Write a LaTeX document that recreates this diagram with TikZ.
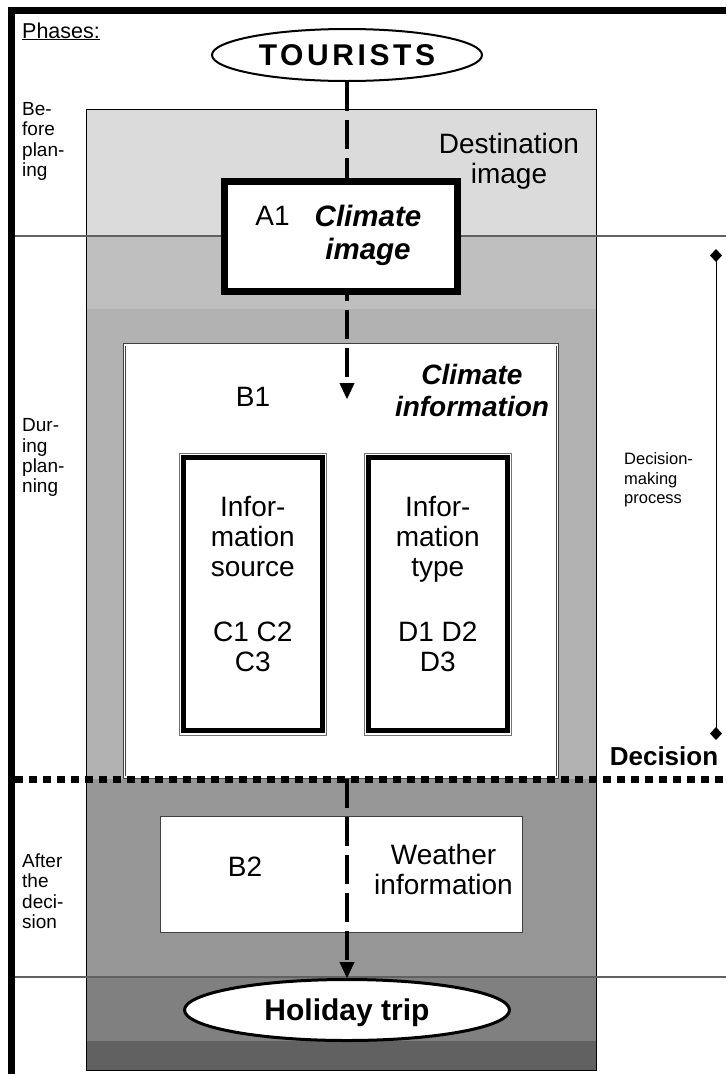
\documentclass[tikz,border=0pt]{standalone}
\usepackage{fontspec}
\setmainfont{Liberation Sans}
\usetikzlibrary{arrows.meta,shapes.geometric}

\newcommand{\fsz}[2]{\fontsize{#1}{#2}\selectfont}

\begin{document}
\begin{tikzpicture}[x=1pt,y=-1pt,
  phaseline/.style={draw=black!62,line width=1.3pt},
  flow/.style={line width=4pt,dash pattern=on 29pt off 9pt},
  flowtip/.style={-{Triangle[length=16pt,width=15pt,line width=0.4pt]}},
  ovalnode/.style={ellipse,draw,fill=white,inner sep=0pt,font=\bfseries\fsz{30}{32}},
  dblbox/.style={draw=black!75,double=white,double distance=1.7pt,line width=0.8pt,fill=white,inner sep=0pt,outer sep=0pt},
  infobox/.style={draw,line width=5pt,fill=white,inner sep=0pt,outer sep=0pt,minimum width=138.7pt,minimum height=272.7pt},
  bigtext/.style={inner sep=0pt,align=center,font=\fsz{28}{30}},
  phasetext/.style={inner sep=0pt,anchor=north west,align=left,font=\fsz{19}{20.3}}
]
\useasboundingbox (0,0) rectangle (726,1074);

% shaded phases
\foreach \ya/\yb/\s in {109/236/14,236/309/25,309/779/30,779/977/41,977/1041/50,1041/1070/62}
  \fill[black!\s] (86,\ya) rectangle (596,\yb);
\draw[line width=1pt] (86,109) rectangle (596,1070);
\draw[phaseline] (15,236) -- (726,236);
\draw[phaseline] (15,977) -- (726,977);

% phase labels
\node[font=\fsz{21.5}{22},inner sep=0pt,anchor=base west] (phases) at (22,38) {\underline{Phases:}};
\node[phasetext] (before) at (22,102.3) {Be-\\fore\\plan-\\ing};
\node[phasetext] (during) at (22,418.5) {Dur-\\ing\\plan-\\ning};
\node[phasetext] (after) at (22,853.5) {After\\the\\deci-\\sion};

\node[ovalnode,minimum width=270pt,minimum height=52pt,line width=2pt] (tourists) at (347,55) {\addfontfeature{LetterSpace=12}TOURISTS};
\node[bigtext] (destimg) at (509,161.2) {Destination\\image};

% climate information
\node[dblbox,minimum width=432.9pt,minimum height=432.6pt] (bone) at (340.9,561) {};
\node[bigtext] (bonelbl) at (253,397) {B1};
\node[bigtext,font=\bfseries\itshape\fsz{28}{32}] (climinfo) at (472,390.8) {Climate\\information};

\node[infobox] (source) at (252.8,594.2) {};
\node[infobox] (type) at (437.8,594.2) {};
\foreach \b in {source,type}
  \draw[black!55,line width=0.9pt] ([shift={(-4.5,-4.5)}]\b.north west) rectangle ([shift={(4.5,4.5)}]\b.south east);
\node[bigtext] (sourcetxt) at (252.8,584.4) {Infor-\\mation\\source\\[35pt]C1 C2\\C3};
\node[bigtext] (typetxt) at (437.8,584.4) {Infor-\\mation\\type\\[35pt]D1 D2\\D3};

% weather information
\node[dblbox,minimum width=359.6pt,minimum height=113.6pt] (btwo) at (341.5,874.5) {};
\node[bigtext] (btwolbl) at (245,867) {B2};
\node[bigtext] (weather) at (443.5,869.8) {Weather\\information};

\coordinate (btip) at (347,399);
\draw[flow,flowtip] (tourists) -- (btip);

% climate image
\node[draw,line width=7pt,fill=white,inner sep=0pt,minimum width=233pt,minimum height=110pt] (aone) at (341,236.5) {};
\node[bigtext] (aonelbl) at (272.5,216) {A1};
\node[bigtext,font=\bfseries\itshape\fsz{29.5}{33}] (climimg) at (368,235.3) {Climate\\image};

% decision
\draw[line width=7pt,dash pattern=on 8.3pt off 5.7pt] (15,779) -- (726,779);
\node[font=\bfseries\fsz{26}{28},inner sep=0pt] (decision) at (664,755.7) {Decision};
\coordinate (dtop) at (716,249);
\coordinate (dbot) at (716,740);
\draw[line width=1pt,{Diamond[length=13pt,width=12pt]}-{Diamond[length=13pt,width=12pt]}] (dtop) -- (dbot);
\node[inner sep=0pt,anchor=west,align=left,font=\fsz{16.5}{19.5}] (dmp) at (624,480) {Decision-\\making\\process};

\node[ovalnode,minimum width=325pt,minimum height=61pt,line width=3pt,text depth=0pt] (holiday) at (347,1010) {Holiday trip};
\coordinate (bout) at (347,779);
\draw[flow,flowtip] (bout) -- (holiday);

% frame
\draw[line width=7pt] (11.5,1074) -- (11.5,10.5) -- (726,10.5);
\end{tikzpicture}
\end{document}
